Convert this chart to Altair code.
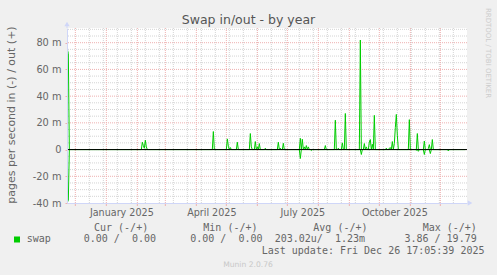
import altair as alt
import pandas as pd

# ---- data (values in milli pages/s, days offset from 2024-12-01) ----
BASE_DATE = "2024-12-01"
FIRST_DAY, LAST_DAY = -8, 390

out_days = [-8, -7, 67, 68, 69, 70, 71, 138, 152, 153, 155, 162, 175, 176, 180, 182, 184,
            190, 203, 205, 208, 225, 227, 229, 231, 233, 250, 260, 263, 267, 270, 285, 289,
            291, 294, 295, 297, 299, 311, 314, 315, 317, 319, 320, 321, 322, 334, 342, 349,
            353, 354, 357]
out_vals = [75, 72, 5.5, 3, 1, 7, 2, 13.5, 8, 2.5, 1.5, 5.5, 12, 2, 6, 2, 4.5,
            1, 5.5, 1, 4.7, 8.4, 7.7, 2, 3, 2, 3, 22, 1, 5, 27, 82, 4.5,
            2, 5.7, 7.5, 4, 25.6, 1, 1, 1.5, 6, 4.5, 16.5, 26.3, 10.7, 22.4, 12, 6.4,
            0.7, 3.7, 7.5]
in_days = [-8, -7, 225, 236, 286, 341, 343, 349, 355, 373]
in_vals = [-39.5, -38, -6.7, -0.7, -3.7, -0.5, -1.3, -3.7, -3, -1]

month_starts = ["2024-12-01", "2025-01-01", "2025-02-01", "2025-03-01", "2025-04-01",
                "2025-05-01", "2025-06-01", "2025-07-01", "2025-08-01", "2025-09-01",
                "2025-10-01", "2025-11-01", "2025-12-01"]
label_dates = ["2025-01-16", "2025-04-16", "2025-07-16", "2025-10-16"]
y_major = [-20, 0, 20, 40, 60, 80]
y_labels = [-40, -20, 0, 20, 40, 60, 80]
y_minor = [-35, -30, -25, -15, -10, -5, 5, 10, 15, 25, 30, 35, 45, 50, 55, 65, 70, 75, 85, 90]

title = "Swap in/out - by year"
y_title = "pages per second in (-) / out (+)"
legend_name = "swap"
legend_headers = ["Cur (-/+)", "Min (-/+)", "Avg (-/+)", "Max (-/+)"]
legend_values = ["0.00 /  0.00", "0.00 /  0.00", "203.02u/  1.23m", "3.86 / 19.79"]
last_update = "Last update: Fri Dec 26 17:05:39 2025"
footer = "Munin 2.0.76"
side_text = "RRDTOOL / TOBI OETIKER"

# ---- build tables ----
base = pd.Timestamp(BASE_DATE)
out_map = dict(zip(out_days, out_vals))
in_map = dict(zip(in_days, in_vals))
rows = []
for d in range(FIRST_DAY, LAST_DAY + 1):
    t = base + pd.Timedelta(days=d)
    rows.append({"t": t, "v": out_map.get(d, 0.0), "s": "out"})
    rows.append({"t": t, "v": in_map.get(d, 0.0), "s": "in"})
df = pd.DataFrame(rows)

minor_x = pd.DataFrame({"t": [base + pd.Timedelta(days=k) for k in range(14, LAST_DAY + 1, 14)]})
major_x = pd.DataFrame({"t": pd.to_datetime(month_starts)})

L, T, W, H = 67, 28, 400, 175
FONT = "DejaVu Sans"
MONO = "DejaVu Sans Mono"
FC = "#666666"
AXC = "#CFD6F8"
RED = "#eeb0b0"
GRAY = "#d4d4d4"

xscale = alt.Scale(domain=[alt.DateTime(year=2024, month=11, date=22, hours=16),
                           alt.DateTime(year=2025, month=12, date=27, hours=16)])
yscale = alt.Scale(domain=[-40, 91], nice=False, zero=False)

xaxis = alt.Axis(values=[alt.DateTime(year=int(s[:4]), month=int(s[5:7]), date=int(s[8:]))
                         for s in label_dates],
                 labelExpr="timeFormat(datum.value, '%B %Y')", ticks=False, grid=False,
                 domain=True, domainColor=AXC, labelFont=FONT, labelFontSize=9.6,
                 labelColor=FC, labelPadding=4, title=None, zindex=1, labelFlush=False)
yaxis = alt.Axis(values=y_labels, labelExpr="datum.value == 0 ? '0' : datum.value + ' m'",
                 grid=False, domain=True, domainColor=AXC, tickSize=2, tickColor=RED,
                 labelFont=FONT, labelFontSize=9.8, labelColor=FC, labelPadding=4,
                 title=None, zindex=1)

X = alt.X("t:T", scale=xscale, axis=xaxis)


def Y(field):
    return alt.Y(field, scale=yscale, axis=yaxis)


grid_minor_v = alt.Chart(minor_x).mark_rule(color=GRAY, strokeWidth=1, strokeDash=[1, 1]).encode(x=X)
grid_major_v = alt.Chart(major_x).mark_rule(color=RED, strokeWidth=1, strokeDash=[1, 1]).encode(x=X)
tick_major_v = alt.Chart(major_x).mark_rule(color=RED, strokeWidth=1).encode(
    x=X, y=alt.value(H), y2=alt.value(H + 3))
grid_minor_h = alt.Chart(pd.DataFrame({"y": y_minor})).mark_rule(
    color=GRAY, strokeWidth=1, strokeDash=[1, 1]).encode(y=Y("y:Q"))
grid_major_h = alt.Chart(pd.DataFrame({"y": y_major})).mark_rule(
    color=RED, strokeWidth=1, strokeDash=[1, 1]).encode(y=Y("y:Q"))

lines = alt.Chart(df).mark_line(color="#00CC00", strokeWidth=1, clip=True).encode(
    x=X, y=Y("v:Q"), detail="s:N")

zero = alt.Chart(pd.DataFrame({"y": [0]})).mark_rule(color="black", strokeWidth=1).encode(y=Y("y:Q"))

one = pd.DataFrame({"a": [0]})
arrows = [
    alt.Chart(one).mark_point(shape="triangle-up", filled=True, color=AXC, size=28, opacity=1).encode(
        x=alt.value(0), y=alt.value(-4)),
    alt.Chart(one).mark_point(shape="triangle-right", filled=True, color=AXC, size=28, opacity=1).encode(
        x=alt.value(W + 3), y=alt.value(H)),
    alt.Chart(one).mark_rule(color=AXC).encode(x=alt.value(0), y=alt.value(0), y2=alt.value(-4)),
]


def txt(text, x, y, size, font=FONT, color=FC, align="left", baseline="alphabetic", angle=0):
    return alt.Chart(pd.DataFrame({"label": [text.replace(" ", "\u00a0")]})).mark_text(
        font=font, fontSize=size, color=color, align=align, baseline=baseline, angle=angle
    ).encode(x=alt.value(x - L), y=alt.value(y - T), text="label:N")


texts = [
    txt(title, 248.5, 24, 12.5, color="#555555", align="center"),
    txt(y_title, 11.5, 115, 11, align="center", baseline="middle", angle=270),
    txt(side_text, 488, 53, 7, color="#cccccc", align="center", baseline="middle", angle=90),
    txt(legend_name, 26.7, 242, 10, font=MONO),
    txt(last_update, 261.7, 254, 10, font=MONO),
    txt(footer, 248, 266.5, 7.6, color="#c8c8c8", align="center"),
]
for hx, h in zip([94, 203.3, 313.3, 422.7], legend_headers):
    texts.append(txt(h, hx, 230.5, 10, font=MONO))
for vx, v in zip([156, 262.5, 365, 476.7], legend_values):
    texts.append(txt(v, vx, 242, 10, font=MONO, align="right"))

swatch = alt.Chart(one).mark_rect(color="#00CC00").encode(
    x=alt.value(14 - L), x2=alt.value(20 - L), y=alt.value(236.5 - T), y2=alt.value(242.5 - T))

chart = alt.layer(
    grid_minor_v, grid_minor_h, grid_major_v, grid_major_h, lines, zero, tick_major_v, *arrows,
    swatch, *texts
).properties(
    width=W, height=H,
    autosize=alt.AutoSizeParams(type="none"),
    padding={"left": L, "top": T, "right": 497 - L - W, "bottom": 275 - T - H},
    background="#F0F0F0",
).configure_view(stroke=None, fill="white")

chart.save("out.html", embed_options={"renderer": "svg", "actions": False})
